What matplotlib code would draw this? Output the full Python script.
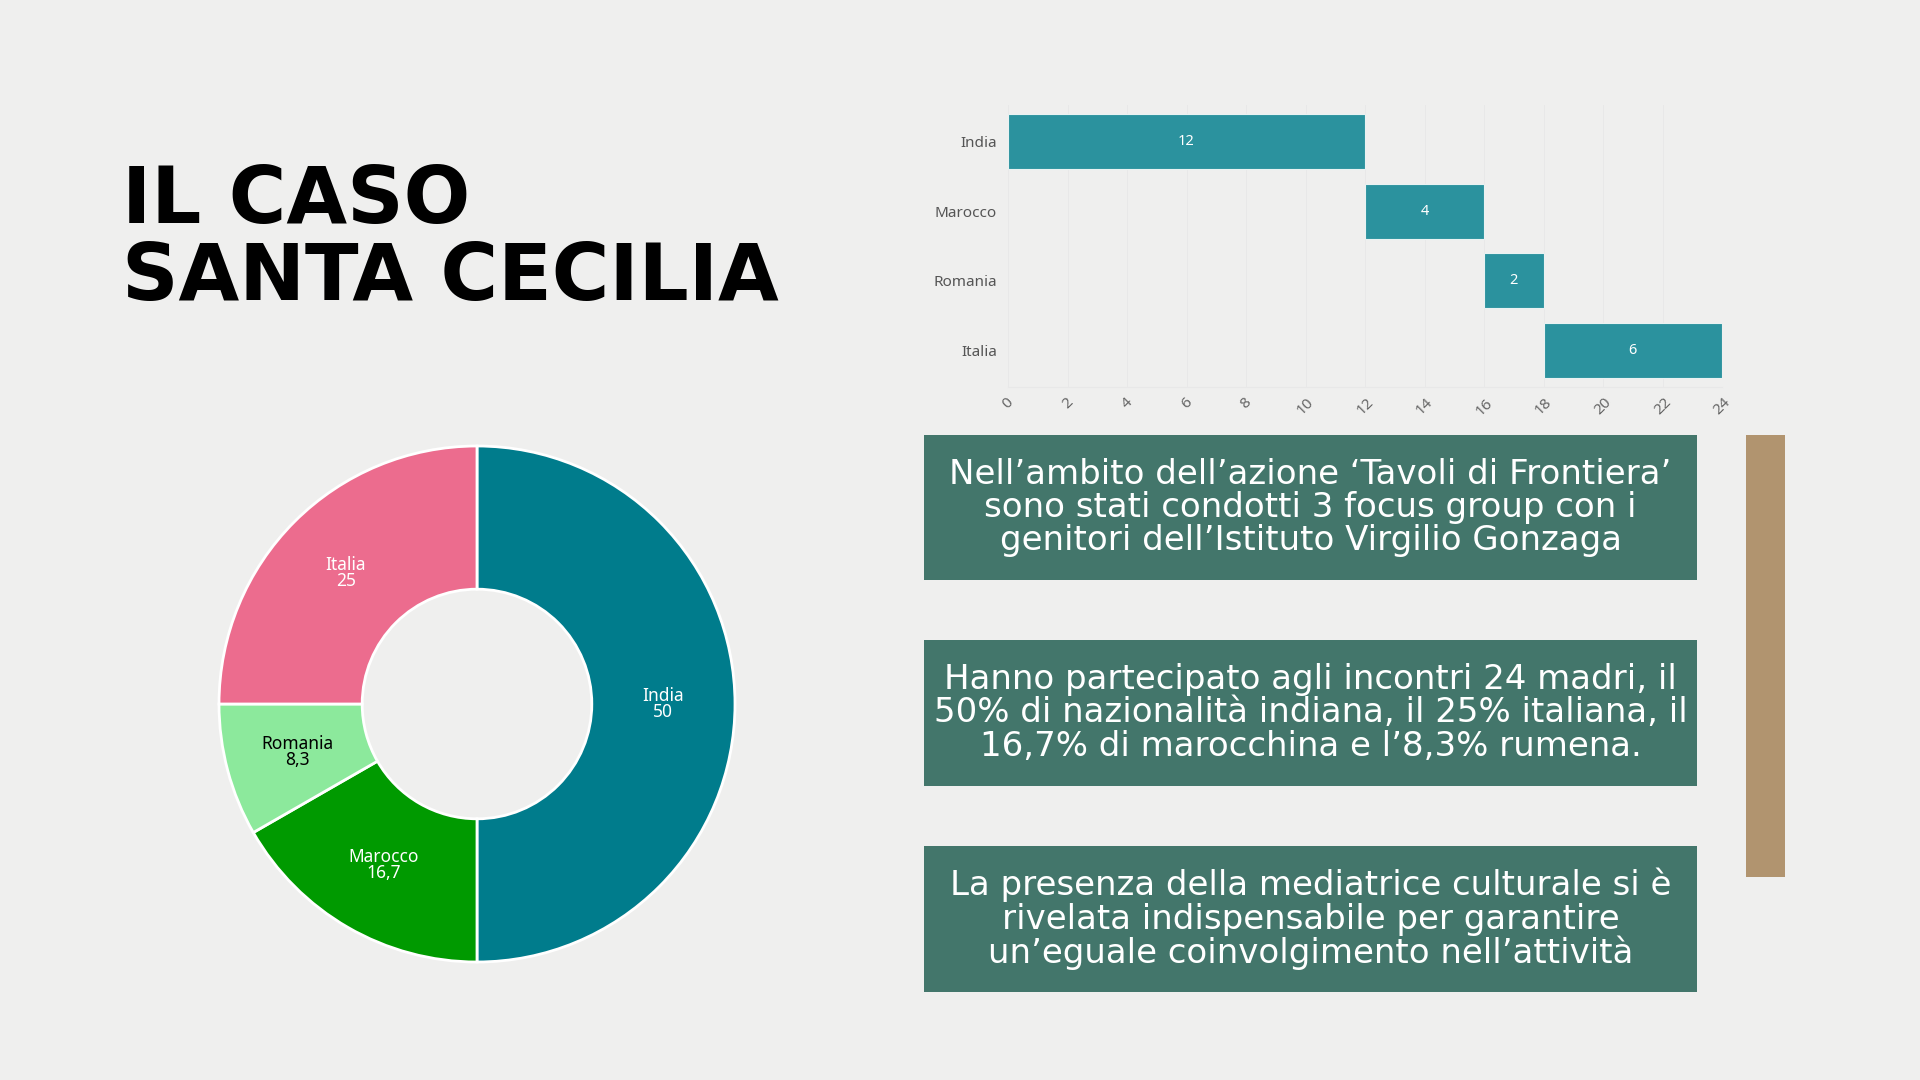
import numpy as np
import matplotlib.pyplot as plt
from matplotlib.patches import Rectangle

# Dati
paesi = ['India', 'Marocco', 'Romania', 'Italia']
madri = [12, 4, 2, 6]
percentuali = [50, 16.7, 8.3, 25]
etichette_pct = ['50', '16,7', '8,3', '25']
colori_torta = ['#007c8c', '#009a00', '#8ce99c', '#ec6c8e']
colori_testo_torta = ['white', 'white', 'black', 'white']

titolo = 'IL CASO\nSANTA CECILIA'
testi_box = [
    "Nell’ambito dell’azione ‘Tavoli di Frontiera’\nsono stati condotti 3 focus group con i\ngenitori dell’Istituto Virgilio Gonzaga",
    "Hanno partecipato agli incontri 24 madri, il\n50% di nazionalità indiana, il 25% italiana, il\n16,7% di marocchina e l’8,3% rumena.",
    "La presenza della mediatrice culturale si è\nrivelata indispensabile per garantire\nun’eguale coinvolgimento nell’attività",
]

W, H = 1920, 1080
sfondo = '#efefee'

fig = plt.figure(figsize=(W / 100, H / 100), dpi=100, facecolor=sfondo)


def box_px(x0, y0, x1, y1):
    # converte pixel (origine in alto) in coordinate figura
    return [x0 / W, 1 - y1 / H, (x1 - x0) / W, (y1 - y0) / H]


# Titolo (va='baseline' allinea la base dell'ultima riga)
fig.text(122 / W, 1 - 300 / H, titolo, fontsize=56.5, fontweight='bold',
         family='DejaVu Sans', color='black', va='baseline', ha='left',
         linespacing=1.02)

# Grafico a barre "fluttuanti"
ax = fig.add_axes(box_px(1008, 105, 1722, 387))
ax.set_facecolor('none')
inizi = np.concatenate([[0], np.cumsum(madri)[:-1]])
y = np.arange(len(paesi))
barre = ax.barh(y, madri, left=inizi, height=0.79, color='#2b929e',
                edgecolor='#e9f2f2', linewidth=0.8, zorder=3)
for b, v in zip(barre, madri):
    ax.text(b.get_x() + b.get_width() / 2, b.get_y() + b.get_height() / 2,
            str(v), color='white', ha='center', va='center', fontsize=10.5,
            fontweight='medium', family='Noto Sans', zorder=4)
ax.set_xlim(0, 24)
ax.set_ylim(3.52, -0.52)
ax.set_yticks(y)
ax.set_yticklabels(paesi, fontsize=11, color='#555555', family='Noto Sans')
ax.set_xticks(np.arange(0, 25, 2))
ax.set_xticklabels([str(v) for v in range(0, 25, 2)], rotation=45,
                   fontsize=11, color='#666666', family='Noto Sans', ha='center')
ax.tick_params(axis='y', length=0, pad=8)
ax.tick_params(axis='x', length=0, pad=6)
ax.grid(axis='x', color='#e8e8e8', linewidth=0.7, zorder=0)
for s in ['top', 'right', 'left']:
    ax.spines[s].set_visible(False)
ax.spines['bottom'].set_color('#e8e8e8')

# Ciambella
axp = fig.add_axes(box_px(477 - 258, 704 - 258, 477 + 258, 704 + 258))
axp.set_facecolor('none')
fette, _ = axp.pie(percentuali, colors=colori_torta, startangle=90,
                   counterclock=False, radius=1,
                   wedgeprops=dict(width=0.555, edgecolor='white', linewidth=2))
for f, nome, val, c in zip(fette, paesi, etichette_pct, colori_testo_torta):
    ang = np.radians((f.theta1 + f.theta2) / 2)
    r = 0.72
    peso = 'bold' if c == 'black' else 'semibold'
    axp.text(r * np.cos(ang), r * np.sin(ang), f'{nome}\n{val}', color=c,
             ha='center', va='center', fontsize=12.5, fontweight=peso,
             family='Noto Sans', linespacing=0.85)
axp.set_xlim(-1, 1)
axp.set_ylim(-1, 1)

# Riquadri di testo
verde = '#43766b'
posizioni_y = [(435, 580), (640, 786), (846, 992)]
for (y0, y1), t in zip(posizioni_y, testi_box):
    fig.patches.append(Rectangle((924 / W, 1 - y1 / H), (1697 - 924) / W,
                                 (y1 - y0) / H, transform=fig.transFigure,
                                 facecolor=verde, edgecolor='none'))
    fig.text((924 + 1697) / 2 / W, 1 - (y0 + y1) / 2 / H, t, color='white',
             ha='center', va='center', fontsize=24.5, family='DejaVu Sans',
             linespacing=1.0)

# Barra decorativa
fig.patches.append(Rectangle((1746 / W, 1 - 877 / H), 39 / W, 442 / H,
                             transform=fig.transFigure, facecolor='#b1946f',
                             edgecolor='none'))

fig.savefig('out.png', dpi=100, facecolor=sfondo)
